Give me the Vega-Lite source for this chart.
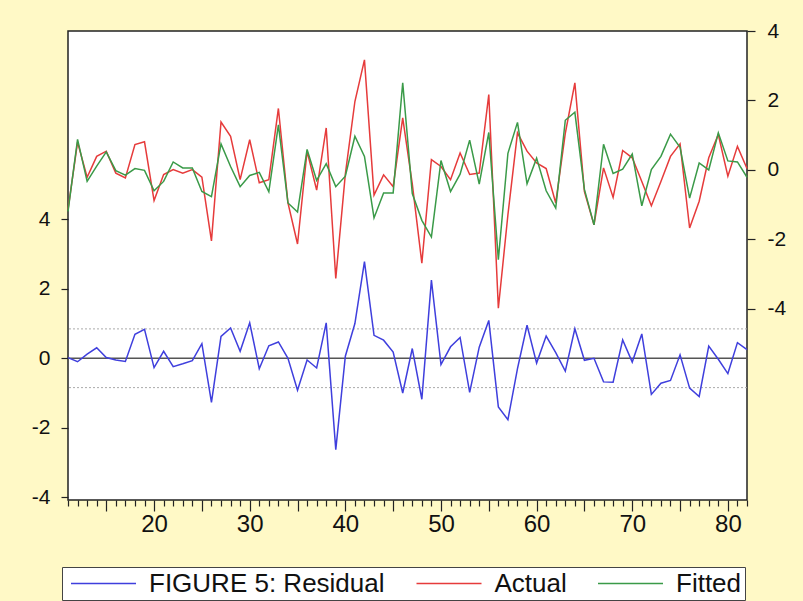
{
  "$schema": "https://vega.github.io/schema/vega-lite/v6.json",
  "width": 679,
  "height": 469,
  "autosize": "none",
  "padding": {"left": 68, "top": 31, "right": 56, "bottom": 101},
  "background": "#FFF9C6",
  "config": {
    "view": {"stroke": "#222222", "strokeWidth": 1.5, "fill": "white"},
    "font": "Liberation Sans",
    "axis": {"domain": false, "grid": false, "tickColor": "#222222", "labelColor": "#111111", "labelFont": "Liberation Sans", "title": null, "tickWidth": 1.2}
  },
  "data": {
    "values": [
      {"t": 11, "Actual": -1.14, "Fitted": -1.19, "Residual": 0.02},
      {"t": 12, "Actual": 0.80, "Fitted": 0.88, "Residual": -0.10},
      {"t": 13, "Actual": -0.21, "Fitted": -0.33, "Residual": 0.12},
      {"t": 14, "Actual": 0.39, "Fitted": 0.11, "Residual": 0.30},
      {"t": 15, "Actual": 0.54, "Fitted": 0.52, "Residual": 0.02},
      {"t": 16, "Actual": -0.09, "Fitted": -0.02, "Residual": -0.05},
      {"t": 17, "Actual": -0.23, "Fitted": -0.15, "Residual": -0.09},
      {"t": 18, "Actual": 0.73, "Fitted": 0.04, "Residual": 0.69},
      {"t": 19, "Actual": 0.81, "Fitted": -0.01, "Residual": 0.83},
      {"t": 20, "Actual": -0.88, "Fitted": -0.60, "Residual": -0.27},
      {"t": 21, "Actual": -0.13, "Fitted": -0.33, "Residual": 0.20},
      {"t": 22, "Actual": 0.01, "Fitted": 0.23, "Residual": -0.24},
      {"t": 23, "Actual": -0.09, "Fitted": 0.06, "Residual": -0.16},
      {"t": 24, "Actual": 0.01, "Fitted": 0.06, "Residual": -0.07},
      {"t": 25, "Actual": -0.21, "Fitted": -0.62, "Residual": 0.42},
      {"t": 26, "Actual": -2.04, "Fitted": -0.77, "Residual": -1.27},
      {"t": 27, "Actual": 1.38, "Fitted": 0.75, "Residual": 0.63},
      {"t": 28, "Actual": 0.97, "Fitted": 0.10, "Residual": 0.87},
      {"t": 29, "Actual": -0.28, "Fitted": -0.48, "Residual": 0.20},
      {"t": 30, "Actual": 0.87, "Fitted": -0.16, "Residual": 1.02},
      {"t": 31, "Actual": -0.37, "Fitted": -0.07, "Residual": -0.30},
      {"t": 32, "Actual": -0.28, "Fitted": -0.63, "Residual": 0.36},
      {"t": 33, "Actual": 1.77, "Fitted": 1.30, "Residual": 0.47},
      {"t": 34, "Actual": -0.95, "Fitted": -0.95, "Residual": 0.00},
      {"t": 35, "Actual": -2.13, "Fitted": -1.21, "Residual": -0.92},
      {"t": 36, "Actual": 0.54, "Fitted": 0.59, "Residual": -0.05},
      {"t": 37, "Actual": -0.58, "Fitted": -0.30, "Residual": -0.28},
      {"t": 38, "Actual": 1.21, "Fitted": 0.18, "Residual": 1.02},
      {"t": 39, "Actual": -3.12, "Fitted": -0.48, "Residual": -2.63},
      {"t": 40, "Actual": -0.12, "Fitted": -0.18, "Residual": 0.06},
      {"t": 41, "Actual": 1.97, "Fitted": 0.97, "Residual": 1.00},
      {"t": 42, "Actual": 3.17, "Fitted": 0.39, "Residual": 2.78},
      {"t": 43, "Actual": -0.72, "Fitted": -1.38, "Residual": 0.66},
      {"t": 44, "Actual": -0.14, "Fitted": -0.66, "Residual": 0.52},
      {"t": 45, "Actual": -0.48, "Fitted": -0.66, "Residual": 0.18},
      {"t": 46, "Actual": 1.50, "Fitted": 2.51, "Residual": -1.00},
      {"t": 47, "Actual": -0.40, "Fitted": -0.68, "Residual": 0.28},
      {"t": 48, "Actual": -2.68, "Fitted": -1.45, "Residual": -1.18},
      {"t": 49, "Actual": 0.30, "Fitted": -1.93, "Residual": 2.25},
      {"t": 50, "Actual": 0.10, "Fitted": 0.27, "Residual": -0.18},
      {"t": 51, "Actual": -0.28, "Fitted": -0.62, "Residual": 0.33},
      {"t": 52, "Actual": 0.49, "Fitted": -0.12, "Residual": 0.60},
      {"t": 53, "Actual": -0.13, "Fitted": 0.86, "Residual": -0.98},
      {"t": 54, "Actual": -0.09, "Fitted": -0.41, "Residual": 0.32},
      {"t": 55, "Actual": 2.17, "Fitted": 1.08, "Residual": 1.09},
      {"t": 56, "Actual": -3.98, "Fitted": -2.58, "Residual": -1.40},
      {"t": 57, "Actual": -1.29, "Fitted": 0.48, "Residual": -1.77},
      {"t": 58, "Actual": 1.07, "Fitted": 1.37, "Residual": -0.30},
      {"t": 59, "Actual": 0.54, "Fitted": -0.40, "Residual": 0.95},
      {"t": 60, "Actual": 0.20, "Fitted": 0.34, "Residual": -0.14},
      {"t": 61, "Actual": 0.04, "Fitted": -0.60, "Residual": 0.64},
      {"t": 62, "Actual": -0.95, "Fitted": -1.10, "Residual": 0.16},
      {"t": 63, "Actual": 1.05, "Fitted": 1.43, "Residual": -0.37},
      {"t": 64, "Actual": 2.51, "Fitted": 1.66, "Residual": 0.85},
      {"t": 65, "Actual": -0.62, "Fitted": -0.56, "Residual": -0.06},
      {"t": 66, "Actual": -1.58, "Fitted": -1.58, "Residual": 0.00},
      {"t": 67, "Actual": 0.06, "Fitted": 0.74, "Residual": -0.68},
      {"t": 68, "Actual": -0.79, "Fitted": -0.10, "Residual": -0.69},
      {"t": 69, "Actual": 0.56, "Fitted": 0.02, "Residual": 0.53},
      {"t": 70, "Actual": 0.35, "Fitted": 0.46, "Residual": -0.11},
      {"t": 71, "Actual": -0.33, "Fitted": -1.03, "Residual": 0.70},
      {"t": 72, "Actual": -1.03, "Fitted": 0.01, "Residual": -1.04},
      {"t": 73, "Actual": -0.33, "Fitted": 0.39, "Residual": -0.72},
      {"t": 74, "Actual": 0.39, "Fitted": 1.03, "Residual": -0.64},
      {"t": 75, "Actual": 0.75, "Fitted": 0.65, "Residual": 0.10},
      {"t": 76, "Actual": -1.67, "Fitted": -0.81, "Residual": -0.86},
      {"t": 77, "Actual": -0.90, "Fitted": 0.20, "Residual": -1.10},
      {"t": 78, "Actual": 0.35, "Fitted": 0.00, "Residual": 0.35},
      {"t": 79, "Actual": 1.02, "Fitted": 1.07, "Residual": -0.03},
      {"t": 80, "Actual": -0.18, "Fitted": 0.26, "Residual": -0.44},
      {"t": 81, "Actual": 0.68, "Fitted": 0.23, "Residual": 0.45},
      {"t": 82, "Actual": 0.04, "Fitted": -0.21, "Residual": 0.25}
    ]
  },
  "layer": [
    {
      "layer": [
        {
          "data": {"values": [{"band": 0.845}, {"band": -0.845}]},
          "mark": {"type": "rule", "color": "#AAAAAA", "strokeDash": [2, 2], "strokeWidth": 1},
          "encoding": {
            "y": {"field": "band", "type": "quantitative", "scale": {"domain": [-4.08, 9.42], "nice": false, "zero": false}}
          }
        },
        {
          "data": {"values": [{"ref": 0}]},
          "mark": {"type": "rule", "color": "#555555", "strokeWidth": 1.5},
          "encoding": {
            "y": {"field": "ref", "type": "quantitative", "scale": {"domain": [-4.08, 9.42], "nice": false, "zero": false}}
          }
        },
        {
          "mark": {"type": "line", "strokeWidth": 1.5},
          "encoding": {
            "x": {
              "field": "t", "type": "quantitative",
              "scale": {"domain": [11, 82], "nice": false, "zero": false},
              "axis": {
                "values": [11,12,13,14,15,16,17,18,19,20,21,22,23,24,25,26,27,28,29,30,31,32,33,34,35,36,37,38,39,40,41,42,43,44,45,46,47,48,49,50,51,52,53,54,55,56,57,58,59,60,61,62,63,64,65,66,67,68,69,70,71,72,73,74,75,76,77,78,79,80,81,82],
                "tickCount": 200,
                "labelExpr": "datum.value % 10 === 0 ? '' + datum.value : ''",
                "labelOverlap": false,
                "labelFlush": false,
                "tickSize": {"condition": {"test": "datum.value % 5 === 0", "value": 11}, "value": 6},
                "labelFontSize": 24,
                "labelPadding": 1
              }
            },
            "y": {
              "field": "Residual", "type": "quantitative",
              "scale": {"domain": [-4.08, 9.42], "nice": false, "zero": false},
              "axis": {"orient": "left", "values": [-4, -2, 0, 2, 4], "tickSize": 7, "labelPadding": 11, "labelFontSize": 21,
                       "labelExpr": "datum.value < 0 ? '-' + abs(datum.value) : '' + datum.value"}
            },
            "color": {
              "datum": "FIGURE 5: Residual",
              "type": "nominal",
              "scale": {"domain": ["FIGURE 5: Residual", "Actual", "Fitted"], "range": ["#3F3FDD", "#E63B3B", "#3A9A48"]},
              "legend": {
                "orient": "none", "legendX": -6, "legendY": 536, "direction": "horizontal",
                "title": null, "symbolType": "M-5,0H5", "symbolSize": 169, "symbolStrokeWidth": 1.5,
                "symbolOffset": 25, "symbolFillColor": "transparent",
                "labelFontSize": 26, "labelFont": "Liberation Sans", "labelColor": "#111111",
                "labelOffset": 32.5, "columnPadding": 25.5, "fillColor": "white", "strokeColor": "#444444",
                "padding": 3.5, "labelLimit": 400
              }
            }
          }
        }
      ]
    },
    {
      "layer": [
        {
          "mark": {"type": "line", "strokeWidth": 1.5},
          "encoding": {
            "x": {"field": "t", "type": "quantitative", "scale": {"domain": [11, 82], "nice": false, "zero": false}},
            "y": {
              "field": "Actual", "type": "quantitative",
              "scale": {"domain": [-9.5, 4], "nice": false, "zero": false},
              "axis": {"orient": "right", "values": [-4, -2, 0, 2, 4], "tickSize": 8, "labelPadding": 12, "labelFontSize": 21, "labelAlign": "left",
                       "labelExpr": "datum.value < 0 ? '-' + abs(datum.value) : '' + datum.value"}
            },
            "color": {"datum": "Actual", "type": "nominal"}
          }
        },
        {
          "mark": {"type": "line", "strokeWidth": 1.5},
          "encoding": {
            "x": {"field": "t", "type": "quantitative", "scale": {"domain": [11, 82], "nice": false, "zero": false}},
            "y": {"field": "Fitted", "type": "quantitative", "scale": {"domain": [-9.5, 4], "nice": false, "zero": false}},
            "color": {"datum": "Fitted", "type": "nominal"}
          }
        }
      ]
    }
  ],
  "resolve": {"scale": {"y": "independent"}}
}
